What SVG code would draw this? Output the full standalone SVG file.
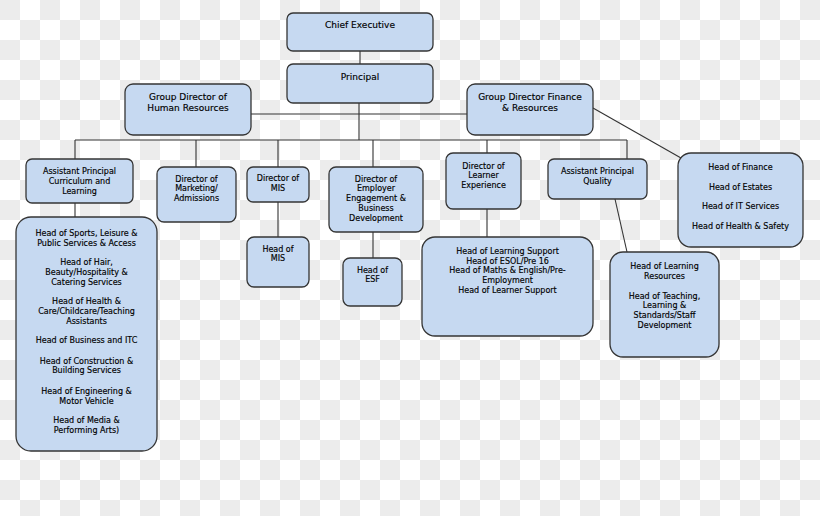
<svg xmlns="http://www.w3.org/2000/svg" width="820" height="516" viewBox="0 0 820 516">
<defs>
<pattern id="checker" width="40" height="40" patternUnits="userSpaceOnUse">
<rect width="40" height="40" fill="#ffffff"/>
<rect width="20" height="20" fill="#ececec"/>
<rect x="20" y="20" width="20" height="20" fill="#ececec"/>
</pattern>
<style>
.box{fill:#c6d9f1;stroke:#353535;stroke-width:1.3}
.t9{font-family:"DejaVu Sans",Verdana,sans-serif;font-size:9px;fill:#000;stroke:#000;stroke-width:0.15;text-anchor:middle}
.t8{font-family:"DejaVu Sans",Verdana,sans-serif;font-size:8px;fill:#000;stroke:#000;stroke-width:0.15;text-anchor:middle}
.ln{stroke:#333;stroke-width:1.1;fill:none}
</style>
</defs>
<rect width="820" height="516" fill="url(#checker)"/>
<g id="connectors">
<path class="ln" d="M360 51V64"/>
<path class="ln" d="M251 114H467"/>
<path class="ln" d="M359 103V140"/>
<path class="ln" d="M75 140H627"/>
<path class="ln" d="M75 140V159M196 140V167M278 140V167M373 140V167M487 140V153M627 140V159"/>
<path class="ln" d="M593 108L681 158"/>
<path class="ln" d="M75 203V217"/>
<path class="ln" d="M278 202V237"/>
<path class="ln" d="M373 232V258"/>
<path class="ln" d="M487 209V237"/>
<path class="ln" d="M615 199L627 252"/>
</g>
<g id="chief-executive">
<rect class="box" x="287" y="13" width="146" height="38" rx="6"/>
<text class="t9" x="360" y="28">Chief Executive</text>
</g>
<g id="principal">
<rect class="box" x="287" y="64" width="146" height="39" rx="6"/>
<text class="t9" x="360" y="80">Principal</text>
</g>
<g id="gd-hr">
<rect class="box" x="125" y="84" width="126" height="51" rx="8"/>
<text class="t9" x="188" y="100">Group Director of</text>
<text class="t9" x="188" y="111">Human Resources</text>
</g>
<g id="gd-finance">
<rect class="box" x="467" y="84" width="126" height="51" rx="8"/>
<text class="t9" x="530" y="100">Group Director Finance</text>
<text class="t9" x="530" y="111">&amp; Resources</text>
</g>
<g id="ap-curriculum">
<rect class="box" x="26" y="159" width="107" height="44" rx="6"/>
<text class="t8" x="79.5" y="174">Assistant Principal</text>
<text class="t8" x="79.5" y="184">Curriculum and</text>
<text class="t8" x="79.5" y="194">Learning</text>
</g>
<g id="dir-marketing">
<rect class="box" x="157" y="167" width="79" height="55" rx="7"/>
<text class="t8" x="196.5" y="182">Director of</text>
<text class="t8" x="196.5" y="191">Marketing/</text>
<text class="t8" x="196.5" y="201">Admissions</text>
</g>
<g id="dir-mis">
<rect class="box" x="247" y="167" width="62" height="35" rx="6"/>
<text class="t8" x="278" y="181">Director of</text>
<text class="t8" x="278" y="191">MIS</text>
</g>
<g id="dir-employer">
<rect class="box" x="329" y="167" width="94" height="65" rx="7"/>
<text class="t8" x="376" y="182">Director of</text>
<text class="t8" x="376" y="191">Employer</text>
<text class="t8" x="376" y="201">Engagement &amp;</text>
<text class="t8" x="376" y="211">Business</text>
<text class="t8" x="376" y="221">Development</text>
</g>
<g id="dir-learner">
<rect class="box" x="446" y="153" width="75" height="56" rx="7"/>
<text class="t8" x="483.5" y="169">Director of</text>
<text class="t8" x="483.5" y="178">Learner</text>
<text class="t8" x="483.5" y="188">Experience</text>
</g>
<g id="ap-quality">
<rect class="box" x="548" y="159" width="99" height="40" rx="6"/>
<text class="t8" x="597.5" y="174">Assistant Principal</text>
<text class="t8" x="597.5" y="184">Quality</text>
</g>
<g id="finance-heads">
<rect class="box" x="678" y="153" width="125" height="94" rx="13"/>
<text class="t8" x="740.5" y="170">Head of Finance</text>
<text class="t8" x="740.5" y="190">Head of Estates</text>
<text class="t8" x="740.5" y="209">Head of IT Services</text>
<text class="t8" x="740.5" y="229">Head of Health &amp; Safety</text>
</g>
<g id="curriculum-heads">
<rect class="box" x="16" y="217" width="141" height="234" rx="15"/>
<text class="t8" x="86.5" y="236">Head of Sports, Leisure &amp;</text>
<text class="t8" x="86.5" y="246">Public Services &amp; Access</text>
<text class="t8" x="86.5" y="265">Head of Hair,</text>
<text class="t8" x="86.5" y="275">Beauty/Hospitality &amp;</text>
<text class="t8" x="86.5" y="285">Catering Services</text>
<text class="t8" x="86.5" y="304">Head of Health &amp;</text>
<text class="t8" x="86.5" y="314">Care/Childcare/Teaching</text>
<text class="t8" x="86.5" y="324">Assistants</text>
<text class="t8" x="86.5" y="343">Head of Business and ITC</text>
<text class="t8" x="86.5" y="364">Head of Construction &amp;</text>
<text class="t8" x="86.5" y="373">Building Services</text>
<text class="t8" x="86.5" y="394">Head of Engineering &amp;</text>
<text class="t8" x="86.5" y="404">Motor Vehicle</text>
<text class="t8" x="86.5" y="423">Head of Media &amp;</text>
<text class="t8" x="86.5" y="433">Performing Arts)</text>
</g>
<g id="head-mis">
<rect class="box" x="247" y="237" width="62" height="50" rx="7"/>
<text class="t8" x="278" y="252">Head of</text>
<text class="t8" x="278" y="261">MIS</text>
</g>
<g id="head-esf">
<rect class="box" x="343" y="258" width="59" height="48" rx="7"/>
<text class="t8" x="372.5" y="273">Head of</text>
<text class="t8" x="372.5" y="282">ESF</text>
</g>
<g id="learning-support">
<rect class="box" x="422" y="237" width="171" height="99" rx="13"/>
<text class="t8" x="507.5" y="254">Head of Learning Support</text>
<text class="t8" x="507.5" y="264">Head of ESOL/Pre 16</text>
<text class="t8" x="507.5" y="273">Head of Maths &amp; English/Pre-</text>
<text class="t8" x="507.5" y="283">Employment</text>
<text class="t8" x="507.5" y="293">Head of Learner Support</text>
</g>
<g id="learning-resources">
<rect class="box" x="610" y="252" width="109" height="105" rx="13"/>
<text class="t8" x="664.5" y="269">Head of Learning</text>
<text class="t8" x="664.5" y="279">Resources</text>
<text class="t8" x="664.5" y="299">Head of Teaching,</text>
<text class="t8" x="664.5" y="308">Learning &amp;</text>
<text class="t8" x="664.5" y="318">Standards/Staff</text>
<text class="t8" x="664.5" y="328">Development</text>
</g>
</svg>
